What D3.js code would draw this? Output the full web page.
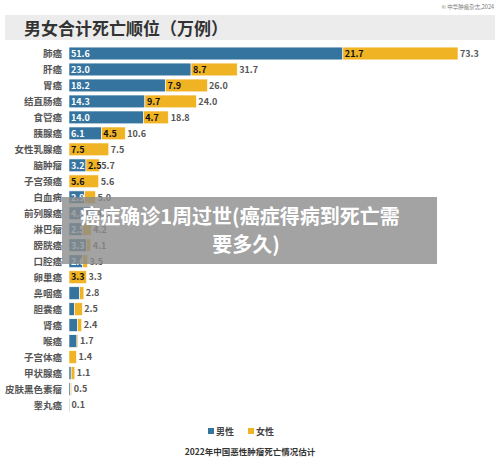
<!DOCTYPE html><html><head><meta charset="utf-8"><script src="https://cdn.jsdelivr.net/npm/d3@7"></script>
<style>body{margin:0;background:#fff;font-family:"Noto Sans CJK SC","Noto Sans",sans-serif}</style></head><body><svg width="500" height="462"></svg><script>
const categories=["肺癌","肝癌","胃癌","结直肠癌","食管癌","胰腺癌","女性乳腺癌","脑肿瘤","子宫颈癌","白血病","前列腺癌","淋巴瘤","膀胱癌","口腔癌","卵巢癌","鼻咽癌","胆囊癌","肾癌","喉癌","子宫体癌","甲状腺癌","皮肤黑色素瘤","睾丸癌"];
const male=[51.6,23.0,18.2,14.3,14.0,6.1,0,3.2,0,2.9,4.8,2.5,3.3,2.6,0,2.0,1.0,1.6,1.5,0,0.4,0.3,0.1];
const female=[21.7,8.7,7.9,9.7,4.7,4.5,7.5,2.5,5.6,2.1,0,1.7,0.8,0.9,3.3,0.8,1.5,0.8,0.2,1.4,0.7,0.2,0];
const totals=[73.3,31.7,26.0,24.0,18.8,10.6,7.5,5.7,5.6,5.0,4.8,4.2,4.1,3.5,3.3,2.8,2.5,2.4,1.7,1.4,1.1,0.5,0.1];
const legendLabels=["男性","女性"];
const cM="#35749f",cF="#f0b323";
const svg=d3.select("svg");
svg.append("text").attr("x",494).attr("y",9).attr("text-anchor","end").attr("font-size",5.5).attr("fill","#777").text("© 中华肿瘤杂志,2024");
svg.append("rect").attr("x",5).attr("y",15).attr("width",490).attr("height",25).attr("fill","#ececec");
svg.append("text").attr("x",24).attr("y",35).attr("font-size",17).attr("font-weight","bold").attr("fill","#333").text("男女合计死亡顺位（万例）");
const x=d3.scaleLinear().domain([0,73.3]).range([69,458]);
const y=d3.scaleBand().domain(categories).range([45.5,413]).paddingInner(0.2).paddingOuter(0.1);
const g=svg.append("g");
categories.forEach((c,i)=>{
  const yy=y(c),h=y.bandwidth(),cy=yy+h/2;
  g.append("text").attr("x",62).attr("y",cy+3.5).attr("text-anchor","end").attr("font-size",9.5).attr("font-weight","bold").attr("fill","#555").text(c);
  if(male[i]>0){g.append("rect").attr("x",x(0)).attr("y",yy).attr("width",x(male[i])-x(0)).attr("height",h).attr("fill",cM).attr("stroke","#fff").attr("stroke-width",0.6);
    if(male[i]>=2.3)g.append("text").attr("x",x(0)+2).attr("y",cy+3.3).attr("font-size",9).attr("font-weight","bold").attr("fill","#fff").text(male[i].toFixed(1));}
  if(female[i]>0){g.append("rect").attr("x",x(male[i])).attr("y",yy).attr("width",x(male[i]+female[i])-x(male[i])).attr("height",h).attr("fill",cF).attr("stroke","#fff").attr("stroke-width",0.6);
    if(female[i]>=2.3)g.append("text").attr("x",x(male[i])+2).attr("y",cy+3.3).attr("font-size",9).attr("font-weight","bold").attr("fill","#111").text(female[i].toFixed(1));}
  g.append("text").attr("x",x(totals[i])+2).attr("y",cy+3.3).attr("font-size",9).attr("font-weight","bold").attr("fill","#555").text(totals[i].toFixed(1));
});
const lg=svg.append("g");
[[208,cM],[248,cF]].forEach(([lx,col],i)=>{lg.append("rect").attr("x",lx).attr("y",428).attr("width",6).attr("height",6).attr("fill",col);
 lg.append("text").attr("x",lx+8).attr("y",435).attr("font-size",9).attr("font-weight","bold").attr("fill","#444").text(legendLabels[i]);});
svg.append("text").attr("x",250).attr("y",455).attr("text-anchor","middle").attr("font-size",8.5).attr("font-weight","bold").attr("fill","#333").text("2022年中国恶性肿瘤死亡情况估计");
svg.append("rect").attr("x",62).attr("y",197).attr("width",375).attr("height",67).attr("fill","rgba(140,140,140,0.8)");
svg.append("text").attr("x",240).attr("y",224).attr("text-anchor","middle").attr("font-size",20).attr("font-weight","bold").attr("fill","#fff").text("癌症确诊1周过世(癌症得病到死亡需");
svg.append("text").attr("x",246).attr("y",252).attr("text-anchor","middle").attr("font-size",20).attr("font-weight","bold").attr("fill","#fff").text("要多久)");
</script></body></html>
